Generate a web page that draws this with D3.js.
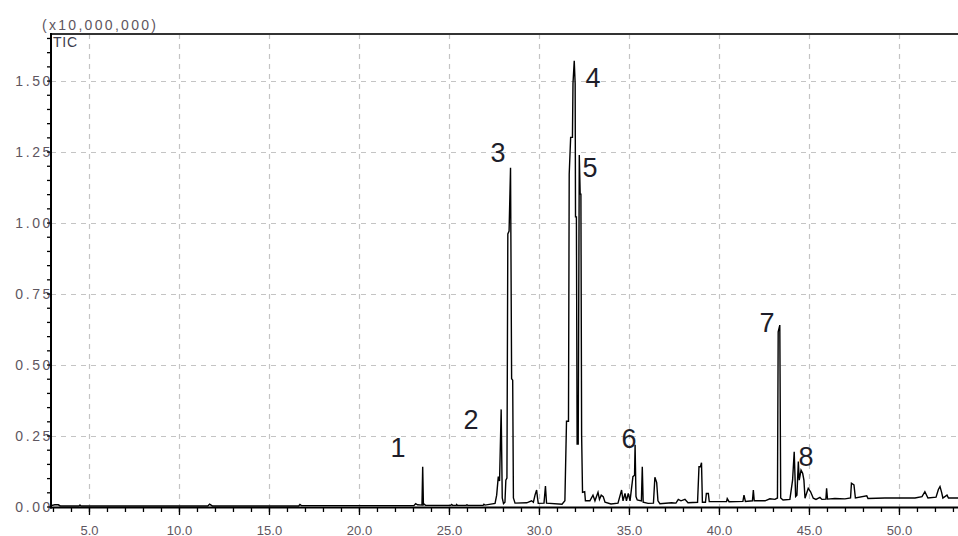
<!DOCTYPE html>
<html>
<head>
<meta charset="utf-8">
<script src="https://cdn.jsdelivr.net/npm/d3@7"></script>
<style>
  html, body { margin: 0; padding: 0; background: #fff; }
  svg { display: block; font-family: "Liberation Sans", Arial, sans-serif; }
</style>
</head>
<body>
<svg id="chart" width="958" height="536"></svg>
<script>
// Total ion chromatogram: [retention time (min), intensity (x10,000,000)]
const trace = [
  [2.89,0.003],[3.1,0.006],[3.3,0.006],[3.4,0.002],[4.45,0.002],[4.5,0.005],[4.55,0.002],
  [11.6,0.002],[11.7,0.008],[11.85,0.002],[16.65,0.002],[16.72,0.007],[16.8,0.003],
  [23.05,0.003],[23.15,0.01],[23.25,0.006],[23.5,0.005],[23.54,0.14],[23.58,0.006],[23.62,0.008],[23.7,0.004],
  [25.1,0.004],[25.15,0.007],[25.2,0.004],[25.4,0.004],[25.43,0.007],[25.47,0.004],[25.95,0.004],[26.0,0.006],[26.05,0.004],
  [26.9,0.004],[26.94,0.008],[27.0,0.005],[27.56,0.011],[27.65,0.04],[27.74,0.105],[27.81,0.09],[27.9,0.342],[27.96,0.03],
  [28.03,0.01],[28.11,0.015],[28.16,0.093],[28.22,0.1],[28.27,0.96],[28.34,0.97],[28.42,1.193],[28.48,0.45],[28.54,0.445],
  [28.58,0.03],[28.67,0.012],[29.32,0.013],[29.59,0.02],[29.69,0.015],[29.78,0.04],[29.87,0.058],[29.92,0.03],[29.96,0.011],
  [30.28,0.012],[30.36,0.072],[30.42,0.012],[31.28,0.008],[31.44,0.02],[31.53,0.30],[31.64,0.30],[31.68,1.17],[31.76,1.30],
  [31.86,1.30],[31.89,1.49],[31.96,1.57],[32.01,1.49],[32.03,1.02],[32.08,1.02],[32.12,0.22],[32.18,0.22],[32.24,1.238],
  [32.29,1.10],[32.33,1.10],[32.37,0.25],[32.42,0.05],[32.54,0.052],[32.58,0.02],[32.83,0.02],[33.0,0.04],[33.11,0.02],
  [33.28,0.05],[33.36,0.025],[33.46,0.04],[33.57,0.035],[33.67,0.015],[34.0,0.009],[34.39,0.012],[34.59,0.058],[34.67,0.02],
  [34.78,0.046],[34.86,0.02],[34.96,0.046],[35.06,0.02],[35.22,0.105],[35.31,0.11],[35.34,0.217],[35.39,0.035],[35.46,0.023],
  [35.69,0.02],[35.74,0.14],[35.79,0.015],[36.06,0.011],[36.36,0.012],[36.44,0.103],[36.54,0.084],[36.61,0.02],[36.72,0.01],
  [37.37,0.013],[37.61,0.012],[37.74,0.025],[37.89,0.02],[38.11,0.025],[38.28,0.013],[38.81,0.015],[38.89,0.14],[38.97,0.14],
  [39.03,0.154],[39.08,0.015],[39.25,0.015],[39.3,0.046],[39.41,0.046],[39.46,0.017],[40.42,0.017],[40.46,0.028],[40.56,0.017],
  [41.33,0.018],[41.39,0.04],[41.47,0.018],[41.86,0.02],[41.91,0.058],[41.96,0.02],[42.56,0.02],[42.83,0.027],[43.11,0.025],
  [43.25,0.03],[43.29,0.615],[43.38,0.639],[43.43,0.03],[43.56,0.023],[43.94,0.025],[44.09,0.093],[44.18,0.193],[44.26,0.035],
  [44.33,0.04],[44.41,0.158],[44.46,0.093],[44.56,0.128],[44.65,0.117],[44.72,0.093],[44.78,0.029],[44.96,0.064],[45.09,0.052],
  [45.24,0.029],[45.39,0.025],[45.61,0.032],[45.72,0.025],[45.94,0.026],[45.98,0.064],[46.03,0.026],[46.44,0.028],[47.0,0.027],
  [47.31,0.03],[47.36,0.082],[47.5,0.076],[47.58,0.03],[48.21,0.038],[48.28,0.028],[49.22,0.03],[50.06,0.03],[50.89,0.03],
  [51.28,0.035],[51.44,0.052],[51.61,0.03],[52.06,0.033],[52.19,0.06],[52.28,0.07],[52.37,0.05],[52.44,0.03],[52.67,0.04],
  [52.75,0.03],[53.28,0.03]
];

// Peak annotations: number, time and intensity of the label baseline
const peakNames = ["1", "2", "3", "4", "5", "6", "7", "8"];
const peakLabelRt = [22.17, 26.22, 27.72, 33.0, 32.83, 35.0, 42.67, 44.83];
const peakLabelTic = [0.174, 0.273, 1.213, 1.477, 1.160, 0.206, 0.614, 0.143];

// Axis ticks
const xMajorTicks = [5, 10, 15, 20, 25, 30, 35, 40, 45, 50];
const xMinorTicks = d3.range(3, 54, 1);
const yMajorTicks = [0, 0.25, 0.5, 0.75, 1.0, 1.25, 1.5];
const yMinorTicks = d3.range(0, 1.66, 0.05);
const xDomain = [2.89, 53.28];
const yDomain = [0, 1.664];
const scaleLabel = "(x10,000,000)";
const traceName = "TIC";

const plotLeft = 51, plotRight = 958, plotTop = 34, plotBottom = 506.5;
const svg = d3.select("#chart");

const x = d3.scaleLinear().domain(xDomain).range([plotLeft, plotRight]);
const y = d3.scaleLinear().domain(yDomain).range([plotBottom, plotTop]);

const tickColor = "#5e5660";

// dashed grid
const grid = svg.append("g").attr("stroke", "#c4c4c4").attr("stroke-width", 1.2)
  .attr("stroke-dasharray", "5,5");
grid.selectAll("line.v").data(xMajorTicks).join("line").attr("class", "v")
  .attr("x1", d => Math.round(x(d)) + 0.5).attr("x2", d => Math.round(x(d)) + 0.5)
  .attr("y1", plotTop).attr("y2", plotBottom);
grid.selectAll("line.h").data(yMajorTicks.filter(d => d > 0)).join("line").attr("class", "h")
  .attr("x1", plotLeft).attr("x2", plotRight)
  .attr("y1", d => Math.round(y(d)) + 0.5).attr("y2", d => Math.round(y(d)) + 0.5);

// y axis labels (under the axis line)
svg.append("g").selectAll("text").data(yMajorTicks).join("text")
  .attr("x", plotLeft + 2).attr("y", d => y(d) + 0.5).attr("dy", "0.35em")
  .attr("text-anchor", "end").attr("font-size", 14).attr("letter-spacing", 2.6)
  .attr("fill", tickColor).text(d => d.toFixed(2));

// trace
const line = d3.line().x(d => x(d[0])).y(d => y(d[1]));
svg.append("path").datum(trace)
  .attr("fill", "none").attr("stroke", "#000").attr("stroke-width", 1.4)
  .attr("stroke-linejoin", "miter").attr("d", line);

// x axis
const xMinor = d3.axisBottom(x).tickValues(xMinorTicks).tickSize(5).tickFormat("");
const xMajor = d3.axisBottom(x).tickValues(xMajorTicks).tickSize(8).tickFormat(d3.format(".1f"));
svg.append("g").attr("transform", `translate(0,${plotBottom + 0.5})`).call(xMinor)
  .call(g => g.select(".domain").remove())
  .call(g => g.selectAll("line").attr("stroke", "#000").attr("stroke-width", 1.3));
svg.append("g").attr("transform", `translate(0,${plotBottom + 0.5})`).call(xMajor)
  .call(g => g.select(".domain").remove())
  .call(g => g.selectAll("line").attr("stroke", "#000").attr("stroke-width", 1.3))
  .call(g => g.selectAll("text").attr("y", 27.5).attr("dy", 0)
    .attr("font-size", 13).attr("font-family", "Liberation Sans, Arial, sans-serif")
    .attr("fill", tickColor));

// y axis ticks
const yMinor = d3.axisLeft(y).tickValues(yMinorTicks).tickSize(4).tickFormat("");
svg.append("g").attr("transform", `translate(${plotLeft},0)`).call(yMinor)
  .call(g => g.select(".domain").remove())
  .call(g => g.selectAll("line").attr("stroke", "#000").attr("stroke-width", 1.3));

// frame lines
svg.append("line").attr("x1", plotLeft).attr("x2", plotRight).attr("y1", plotTop).attr("y2", plotTop)
  .attr("stroke", "#333").attr("stroke-width", 2);
svg.append("line").attr("x1", plotLeft).attr("x2", plotLeft).attr("y1", plotTop - 1).attr("y2", plotBottom + 2)
  .attr("stroke", "#000").attr("stroke-width", 2);
svg.append("line").attr("x1", plotLeft - 1).attr("x2", plotRight).attr("y1", plotBottom + 1).attr("y2", plotBottom + 1)
  .attr("stroke", "#000").attr("stroke-width", 2);

// scale factor and trace name
svg.append("text").attr("x", 42).attr("y", 29.5).attr("font-size", 14)
  .attr("letter-spacing", 2.3).attr("fill", tickColor).text(scaleLabel);
svg.append("text").attr("x", 53).attr("y", 47).attr("font-size", 14)
  .attr("letter-spacing", 0.8).attr("fill", "#3c3c4c").text(traceName);

// peak numbers
svg.append("g").selectAll("text").data(peakNames).join("text")
  .attr("x", (d, i) => x(peakLabelRt[i])).attr("y", (d, i) => y(peakLabelTic[i]))
  .attr("text-anchor", "middle").attr("font-size", 27).attr("fill", "#1e1e2a")
  .text(d => d);
</script>
</body>
</html>
